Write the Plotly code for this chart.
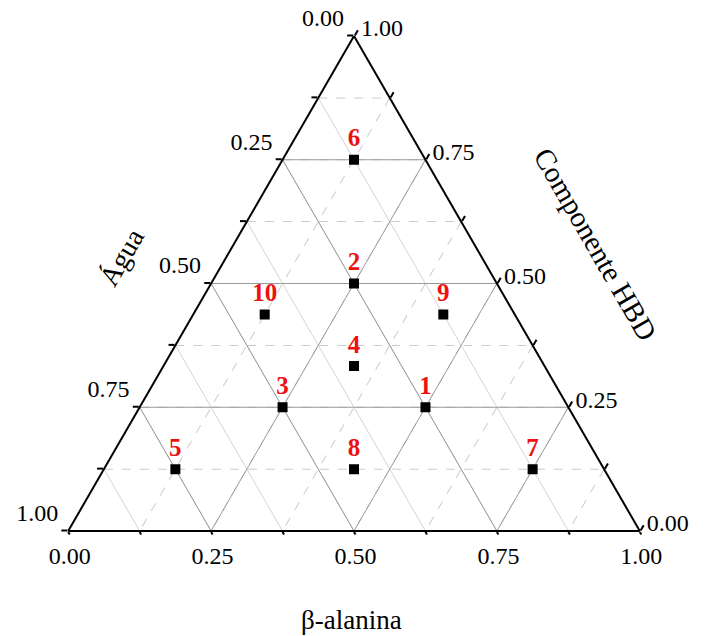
import plotly.graph_objects as go

# ---- data (mixture design points) ----
run_labels = ['1', '2', '3', '4', '5', '6', '7', '8', '9', '10']
hbd = [0.25, 0.50, 0.25, 0.333, 0.125, 0.75, 0.125, 0.125, 0.4375, 0.4375]     # Componente HBD (top vertex)
agua = [0.25, 0.25, 0.50, 0.333, 0.75, 0.125, 0.125, 0.4375, 0.125, 0.4375]    # Água (bottom-left vertex)
beta = [0.50, 0.25, 0.25, 0.333, 0.125, 0.125, 0.75, 0.4375, 0.4375, 0.125]    # β-alanina (bottom-right vertex)

tick_vals = [0, 0.125, 0.25, 0.375, 0.5, 0.625, 0.75, 0.875, 1]
tick_text = ['1.00', '', '0.75', '', '0.50', '', '0.25', '', '0.00']
major_vals = [0.25, 0.50, 0.75]

axis_titles = ['Componente HBD', 'Água', 'β-alanina']

FONT = 'Liberation Serif, Times New Roman, serif'

fig = go.Figure()

# major solid grid lines in the three directions
ga, gb, gc = [], [], []
for v in major_vals:
    ga += [v, v, None]; gb += [1 - v, 0, None]; gc += [0, 1 - v, None]          # const HBD
    ga += [1 - v, 0, None]; gb += [v, v, None]; gc += [0, 1 - v, None]          # const Água
    ga += [1 - v, 0, None]; gb += [0, 1 - v, None]; gc += [v, v, None]          # const β-alanina
fig.add_trace(go.Scatterternary(a=ga, b=gb, c=gc, mode='lines',
                                line=dict(color='#9a9a9a', width=1),
                                hoverinfo='skip', showlegend=False))

fig.add_trace(go.Scatterternary(
    a=hbd, b=agua, c=beta, mode='markers+text',
    text=run_labels, textposition='top center',
    textfont=dict(family=FONT, size=25, color='#ee1111', weight='bold'),
    marker=dict(symbol='square', size=10, color='black'),
    showlegend=False))


def axis(gdash, gcolor, ticktext, ticklen=6):
    return dict(
        title=dict(text=''), min=0,
        tickmode='array', tickvals=tick_vals, ticktext=ticktext,
        ticks='outside', ticklen=ticklen, tickwidth=1.5, tickcolor='black',
        linecolor='black', linewidth=2, showline=True,
        showgrid=True, gridcolor=gcolor, gridwidth=1, griddash=gdash,
        tickfont=dict(family=FONT, size=24, color='black'),
    )


# left-edge labels sit a little above their ticks in the reference
left_text = [t + '<br>&nbsp;' if t else '' for t in tick_text]

fig.update_layout(
    width=697, height=628,
    margin=dict(l=60, r=65, t=28, b=105),
    paper_bgcolor='white', plot_bgcolor='white',
    showlegend=False,
    font=dict(family=FONT, color='black'),
    ternary=dict(
        sum=1, bgcolor='white',
        domain=dict(x=[0, 1], y=[0, 1]),
        aaxis=axis('dash', '#cccccc', left_text),
        baxis=axis('solid', '#d4d4d4', tick_text, ticklen=3),
        caxis=axis('dash', '#cccccc', tick_text),
    ),
    annotations=[
        dict(text=axis_titles[0], xref='paper', yref='paper', x=0.923, y=0.578,
             textangle=60, showarrow=False, font=dict(family=FONT, size=29, color='black'),
             xanchor='center', yanchor='middle'),
        dict(text=axis_titles[1], xref='paper', yref='paper', x=0.093, y=0.553,
             textangle=-60, showarrow=False, font=dict(family=FONT, size=28, color='black'),
             xanchor='center', yanchor='middle'),
        dict(text=axis_titles[2], xref='paper', yref='paper', x=0.4965, y=-0.18,
             showarrow=False, font=dict(family=FONT, size=27, color='black'),
             xanchor='center', yanchor='middle'),
    ],
)

fig.write_html('out.html')
